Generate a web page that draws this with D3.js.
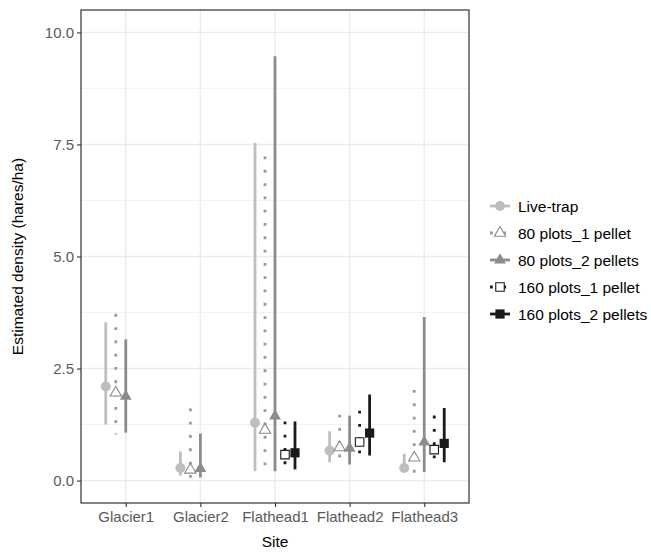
<!DOCTYPE html>
<html>
<head>
<meta charset="utf-8">
<script src="https://cdn.jsdelivr.net/npm/d3@7"></script>
<style>
  body { margin: 0; background: #fff; }
  text { font-family: "Liberation Sans", Arial, sans-serif; }
</style>
</head>
<body>
<script>
const sites = ["Glacier1", "Glacier2", "Flathead1", "Flathead2", "Flathead3"];
const seriesNames = ["Live-trap", "80 plots_1 pellet", "80 plots_2 pellets", "160 plots_1 pellet", "160 plots_2 pellets"];
const yTicks = [0, 2.5, 5, 7.5, 10];

// estimates and interval ends, one array per series (null = not estimated)
const liveEst = [2.10, 0.28, 1.29, 0.67, 0.28];
const liveLo  = [1.25, 0.11, 0.21, 0.41, 0.19];
const liveHi  = [3.53, 0.65, 7.54, 1.10, 0.60];

const p80one = [1.96, 0.24, 1.13, 0.74, 0.51];
const p80oneLo = [1.03, 0.04, 0.16, 0.33, 0.16];
const p80oneHi = [3.72, 1.61, 7.23, 1.47, 2.02];

const p80two = [1.88, 0.27, 1.44, 0.72, 0.86];
const p80twoLo = [1.07, 0.07, 0.21, 0.36, 0.19];
const p80twoHi = [3.15, 1.05, 9.47, 1.45, 3.65];

const p160one = [null, null, 0.58, 0.86, 0.69];
const p160oneLo = [null, null, 0.22, 0.46, 0.33];
const p160oneHi = [null, null, 1.32, 1.56, 1.45];

const p160two = [null, null, 0.62, 1.06, 0.83];
const p160twoLo = [null, null, 0.25, 0.56, 0.41];
const p160twoHi = [null, null, 1.32, 1.92, 1.62];

const est = [liveEst, p80one, p80two, p160one, p160two];
const lo = [liveLo, p80oneLo, p80twoLo, p160oneLo, p160twoLo];
const hi = [liveHi, p80oneHi, p80twoHi, p160oneHi, p160twoHi];

// look of each series
const styles = [
  { line: "#bebebe", dash: null, shape: d3.symbolCircle, size: 80, fill: "#bebebe", stroke: "none" },
  { line: "#9a9a9a", dash: "2.8,10.5", shape: d3.symbolTriangle, size: 55, fill: "#fff", stroke: "#8a8a8a" },
  { line: "#8c8c8c", dash: null, shape: d3.symbolTriangle, size: 60, fill: "#8c8c8c", stroke: "none" },
  { line: "#1a1a1a", dash: "2.8,10.5", shape: d3.symbolSquare, size: 72, fill: "#fff", stroke: "#1a1a1a" },
  { line: "#1a1a1a", dash: null, shape: d3.symbolSquare, size: 85, fill: "#1a1a1a", stroke: "none" }
];

const width = 651, height = 552;
const panel = { left: 81, right: 469, top: 10, bottom: 503 };

let svg = d3.select("body").append("svg")
  .attr("width", width)
  .attr("height", height);

let x = d3.scalePoint()
  .domain(sites)
  .range([panel.left, panel.right])
  .padding(0.6);

let y = d3.scaleLinear()
  .domain([-0.5, 10.5])
  .range([panel.bottom, panel.top]);

const dodge = x.step() * 0.134;

// grid
let grid = svg.append("g");
let minor = [1.25, 3.75, 6.25, 8.75];
grid.selectAll(".minor")
  .data(minor)
  .enter()
  .append("line")
  .attr("x1", panel.left).attr("x2", panel.right)
  .attr("y1", d => y(d)).attr("y2", d => y(d))
  .attr("stroke", "#f2f2f2").attr("stroke-width", 1);
grid.selectAll(".major")
  .data(yTicks)
  .enter()
  .append("line")
  .attr("x1", panel.left).attr("x2", panel.right)
  .attr("y1", d => y(d)).attr("y2", d => y(d))
  .attr("stroke", "#ebebeb").attr("stroke-width", 1.4);
grid.selectAll(".vert")
  .data(sites)
  .enter()
  .append("line")
  .attr("x1", d => x(d)).attr("x2", d => x(d))
  .attr("y1", panel.top).attr("y2", panel.bottom)
  .attr("stroke", "#ebebeb").attr("stroke-width", 1.4);

// intervals and points
seriesNames.forEach((name, s) => {
  let st = styles[s];
  let rows = sites.map((site, i) => ({ site: site, est: est[s][i], lo: lo[s][i], hi: hi[s][i] }))
    .filter(d => d.est !== null);
  let g = svg.append("g");
  let cx = d => x(d.site) + (s - 2) * dodge;

  g.selectAll("line")
    .data(rows)
    .enter()
    .append("line")
    .attr("x1", cx).attr("x2", cx)
    .attr("y1", d => y(d.hi)).attr("y2", d => y(d.lo))
    .attr("stroke", st.line)
    .attr("stroke-width", 2.8)
    .attr("stroke-dasharray", st.dash);

  g.selectAll("path")
    .data(rows)
    .enter()
    .append("path")
    .attr("d", d3.symbol().type(st.shape).size(st.size))
    .attr("transform", d => `translate(${cx(d)},${y(d.est)})`)
    .attr("fill", st.fill)
    .attr("stroke", st.stroke)
    .attr("stroke-width", 1.1);
});

// panel border
svg.append("rect")
  .attr("x", panel.left).attr("y", panel.top)
  .attr("width", panel.right - panel.left)
  .attr("height", panel.bottom - panel.top)
  .attr("fill", "none")
  .attr("stroke", "#333")
  .attr("stroke-width", 1.2);

// axes
let yAxis = svg.append("g")
  .attr("transform", `translate(${panel.left},0)`)
  .call(d3.axisLeft(y).tickValues(yTicks).tickFormat(d3.format(".1f")).tickSize(4).tickPadding(3));
let xAxis = svg.append("g")
  .attr("transform", `translate(0,${panel.bottom})`)
  .call(d3.axisBottom(x).tickSize(4).tickPadding(4));
[yAxis, xAxis].forEach(a => {
  a.select(".domain").remove();
  a.selectAll(".tick line").attr("stroke", "#333").attr("stroke-width", 1.1);
  a.selectAll(".tick text").attr("fill", "#5a5a5a").attr("font-size", 15)
    .style("font-family", "'Liberation Sans', Arial, sans-serif");
});

svg.append("text")
  .attr("x", (panel.left + panel.right) / 2)
  .attr("y", 547)
  .attr("text-anchor", "middle")
  .attr("font-size", 15.5)
  .attr("fill", "#000")
  .text("Site");

svg.append("text")
  .attr("transform", `translate(23,${(panel.top + panel.bottom) / 2})rotate(-90)`)
  .attr("text-anchor", "middle")
  .attr("font-size", 15.5)
  .attr("fill", "#000")
  .text("Estimated density (hares/ha)");

// legend
let legend = svg.append("g").attr("transform", "translate(490,206)");
seriesNames.forEach((name, s) => {
  let st = styles[s];
  let row = legend.append("g").attr("transform", `translate(0,${s * 27})`);
  row.append("line")
    .attr("x1", 0).attr("x2", 20)
    .attr("y1", 0).attr("y2", 0)
    .attr("stroke", st.line)
    .attr("stroke-width", 2.8)
    .attr("stroke-dasharray", st.dash);
  row.append("path")
    .attr("d", d3.symbol().type(st.shape).size(st.size))
    .attr("transform", "translate(10,0)")
    .attr("fill", st.fill)
    .attr("stroke", st.stroke)
    .attr("stroke-width", 1.1);
  row.append("text")
    .attr("x", 28)
    .attr("y", 5.5)
    .attr("font-size", 15.5)
    .attr("fill", "#000")
    .text(name);
});
</script>
</body>
</html>
